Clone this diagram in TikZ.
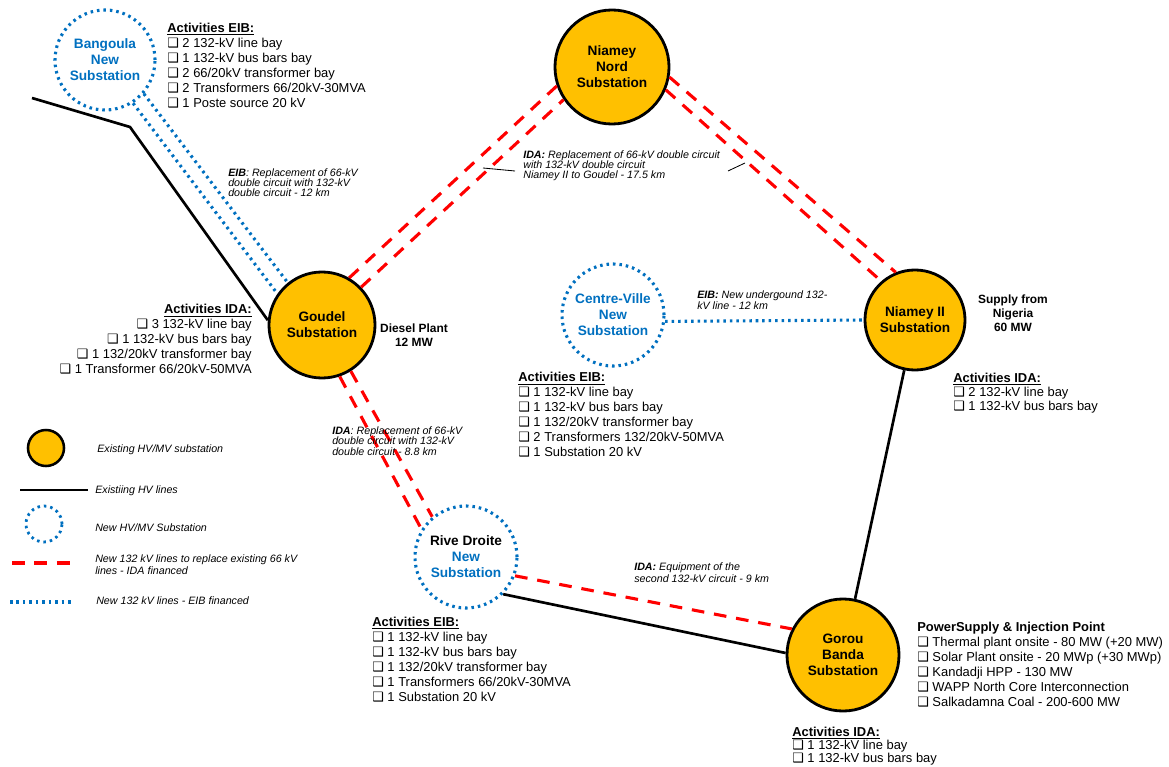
\documentclass[tikz,border=0pt]{standalone}
\usepackage{fontspec}
\setmainfont{Liberation Sans}
\newfontfamily\symfont{DejaVu Sans}
\usepackage{xcolor}
\usepackage{tikz}
\usetikzlibrary{positioning}

\definecolor{subyellow}{HTML}{FFC000}
\definecolor{eibblue}{HTML}{0070C0}
\definecolor{idared}{HTML}{FF0000}
\newcommand{\chkbox}{{\symfont ❑}\ }

\begin{document}
\begin{tikzpicture}[x=0.025cm, y=-0.025cm,
    existing/.style={circle, draw=black, line width=2pt, fill=subyellow, inner sep=0pt, align=center, font=\bfseries\fontsize{9.7}{11.4}\selectfont},
    newsub/.style={circle, draw=eibblue, line width=2.2pt, dash pattern=on 1.8pt off 2.8pt, text=eibblue, inner sep=0pt, align=center, font=\bfseries\fontsize{9.7}{11.4}\selectfont},
    hvline/.style={line width=1.9pt},
    idaline/.style={idared, line width=2.2pt, dash pattern=on 9pt off 7pt},
    eibline/.style={eibblue, line width=2.2pt, dash pattern=on 1.8pt off 2.8pt},
    leader/.style={line width=0.6pt},
    acts/.style={align=left, inner sep=0pt, font=\fontsize{9.2}{10.7}\selectfont},
    note/.style={align=left, inner sep=0pt, font=\itshape\fontsize{7.6}{7.1}\selectfont},
    plant/.style={align=center, inner sep=0pt, font=\bfseries\fontsize{8.5}{10}\selectfont}]

    \fill[white] (0,0) rectangle (1169,767);
    \useasboundingbox (0,0) rectangle (1169,767);

    % substations
    \node[newsub, minimum size=2.5cm] (bangoula) at (105,60) {Bangoula\\New\\Substation};
    \node[existing, minimum size=2.85cm] (nord) at (612,67) {Niamey\\Nord\\Substation};
    \node[existing, minimum size=2.65cm] (goudel) at (322,325) {Goudel\\Substation};
    \node[newsub, minimum size=2.55cm] (centre) at (613,315) {Centre-Ville\\New\\Substation};
    \node[existing, minimum size=2.5cm] (niamey2) at (915,320) {Niamey II\\Substation};
    \node[newsub, minimum size=2.55cm] (rive) at (466,557) {\textcolor{black}{Rive Droite}\\New\\Substation};
    \node[existing, minimum size=2.8cm] (gorou) at (843,655) {Gorou\\Banda\\Substation};

    % lines
    \coordinate (blstart) at (32,98);
    \coordinate (blbend) at (130,127);
    \draw[hvline] (blstart) -- (blbend) -- (goudel.175);
    \draw[eibline] (bangoula.-57) -- (goudel.145);
    \draw[eibline] (bangoula.-41) -- (goudel.129);
    \draw[idaline] (goudel.60) -- (nord.199);
    \draw[idaline] (goudel.44) -- (nord.214);
    \draw[idaline] (nord.-10) -- (niamey2.112);
    \draw[idaline] (nord.-23) -- (niamey2.131);
    \draw[eibline] (centre.-7) -- (niamey2.180);
    \draw[hvline] (niamey2) -- (gorou);
    \draw[idaline] (goudel.-71) -- (rive.148);
    \draw[idaline] (goudel.-58) -- (rive.130);
    \draw[idaline] (rive.-21) -- (gorou.153);
    \draw[hvline] (rive.-45) -- (gorou.178);

    % line notes
    \node[note, anchor=west] (eibnote) at (228,183) {\textbf{EIB}:  Replacement of 66-kV\\double circuit with 132-kV\\double circuit - 12 km};
    \node[note, anchor=west] (idanordnote) at (523,166) {\textbf{IDA:} Replacement of 66-kV double circuit\\with 132-kV double circuit\\Niamey II to Goudel - 17.5 km};
    \coordinate (ldA) at (483,168);
    \coordinate (ldB) at (515,171);
    \coordinate (ldC) at (728,171);
    \coordinate (ldD) at (745,163);
    \draw[leader] (ldA) -- (ldB);
    \draw[leader] (ldC) -- (ldD);
    \node[note, anchor=west, font=\itshape\fontsize{7.6}{6.2}\selectfont] (centrenote) at (697,300) {\textbf{EIB:} New undergound 132-\\kV line - 12 km};
    \node[note, anchor=west, font=\itshape\fontsize{7.6}{7.4}\selectfont] (rivenote) at (332,441) {\textbf{IDA}: Replacement of 66-kV\\double circuit with 132-kV\\double circuit - 8.8 km};
    \node[note, anchor=west, font=\itshape\fontsize{7.6}{6.4}\selectfont] (gorounote) at (634,572.5) {\textbf{IDA:} Equipment of the\\second 132-kV circuit - 9 km};

    % plants
    \node[plant] (diesel) at (414,335) {Diesel Plant\\12 MW};
    \node[plant] (nigeria) at (1013,313) {Supply from\\Nigeria\\60 MW};

    % activities
    \node[acts, anchor=west] (bangacts) at (167,65.5) {\underline{\textbf{Activities EIB:}}\\
        \chkbox 2 132-kV line bay\\
        \chkbox 1 132-kV bus bars bay\\
        \chkbox 2 66/20kV transformer bay\\
        \chkbox 2 Transformers 66/20kV-30MVA\\
        \chkbox 1 Poste source 20 kV};
    \node[acts, anchor=east, align=right] (goudacts) at (252,339.5) {\underline{\textbf{Activities IDA:}}\\
        \chkbox 3 132-kV line bay\\
        \chkbox 1 132-kV bus bars bay\\
        \chkbox 1 132/20kV transformer bay\\
        \chkbox 1 Transformer 66/20kV-50MVA};
    \node[acts, anchor=west] (centreacts) at (518,415) {\underline{\textbf{Activities EIB:}}\\
        \chkbox 1 132-kV line bay\\
        \chkbox 1 132-kV bus bars bay\\
        \chkbox 1 132/20kV transformer bay\\
        \chkbox 2 Transformers 132/20kV-50MVA\\
        \chkbox 1 Substation  20 kV};
    \node[acts, anchor=west, font=\fontsize{9.2}{10}\selectfont] (niameyacts) at (953,393) {\underline{\textbf{Activities IDA:}}\\
        \chkbox 2 132-kV line bay\\
        \chkbox 1 132-kV bus bars bay};
    \node[acts, anchor=west] (riveacts) at (372,659.5) {\underline{\textbf{Activities EIB:}}\\
        \chkbox 1 132-kV line bay\\
        \chkbox 1 132-kV bus bars bay\\
        \chkbox 1 132/20kV transformer bay\\
        \chkbox 1 Transformers 66/20kV-30MVA\\
        \chkbox 1 Substation  20 kV};
    \node[acts, anchor=west] (supplyacts) at (917,664.5) {\textbf{PowerSupply \& Injection Point}\\
        \chkbox Thermal plant  onsite - 80 MW (+20 MW)\\
        \chkbox Solar Plant onsite - 20 MWp (+30 MWp)\\
        \chkbox Kandadji  HPP - 130 MW\\
        \chkbox WAPP North Core Interconnection\\
        \chkbox Salkadamna  Coal - 200-600 MW};
    \node[acts, anchor=west, font=\fontsize{9.2}{9.3}\selectfont] (gorouacts) at (792,746) {\underline{\textbf{Activities IDA:}}\\
        \chkbox 1 132-kV line bay\\
        \chkbox 1 132-kV bus bars bay};

    % legend
    \node[existing, minimum size=0.9cm, line width=1.8pt] (lgexist) at (46,448) {};
    \node[note, anchor=west] (lgexisttext) at (97,450) {Existing HV/MV substation};
    \coordinate (lghvA) at (20,490);
    \coordinate (lghvB) at (88,490);
    \draw[hvline] (lghvA) -- (lghvB);
    \node[note, anchor=west] (lghvtext) at (95,491) {Existiing HV lines};
    \node[newsub, minimum size=0.9cm, line width=2pt] (lgnew) at (44,524) {};
    \node[note, anchor=west] (lgnewtext) at (95,528) {New  HV/MV Substation};
    \coordinate (lgidaA) at (12,563);
    \coordinate (lgidaB) at (73,563);
    \draw[idaline] (lgidaA) -- (lgidaB);
    \node[note, anchor=west, font=\itshape\fontsize{7.6}{6.4}\selectfont] (lgidatext) at (95,564.5) {New 132 kV lines to replace existing 66 kV\\lines - IDA financed};
    \coordinate (lgeibA) at (10,602);
    \coordinate (lgeibB) at (74,602);
    \draw[eibline] (lgeibA) -- (lgeibB);
    \node[note, anchor=west] (lgeibtext) at (96,601) {New 132 kV lines - EIB financed};
\end{tikzpicture}
\end{document}
